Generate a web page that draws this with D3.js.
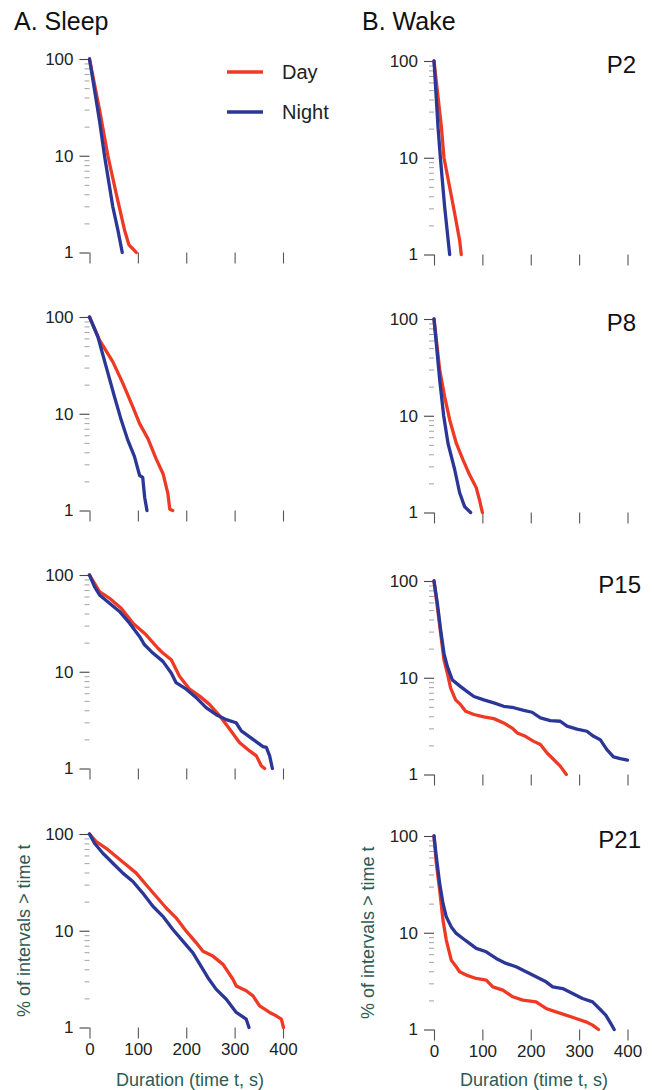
<!DOCTYPE html>
<html>
<head>
<meta charset="utf-8">
<script src="https://cdn.jsdelivr.net/npm/d3@7"></script>
<style>
  body { margin: 0; background: #fff; }
  svg { display: block; font-family: "Liberation Sans", Arial, Helvetica, sans-serif; }
</style>
</head>
<body>
<svg id="chart" width="654" height="1090"></svg>
<script>
// survival curves: [duration t (s), % of intervals > t]
const sleepP2Day = [[0,100],[20.7,30],[38,10],[55,4.1],[72.5,1.7],[81.5,1.2],[89,1.1],[96.7,1]];
const sleepP2Night = [[0,100],[20.7,23],[31,10],[48,3],[58.7,1.7],[67.7,1]];
const sleepP8Day = [[0,100],[20.7,57.8],[48.3,34.4],[69,20.6],[89.8,11.7],[103.6,7.9],[121,5.5],[138,3.4],[152,2.4],[162,1.5],[166,1.03],[172,1]];
const sleepP8Night = [[0,100],[17.3,62.5],[34.5,30.5],[51.8,14.9],[65.6,8.6],[79.4,5.3],[93,3.6],[103.6,2.3],[110,2.2],[114,1.37],[118.8,1]];
const sleepP15Day = [[0,100],[20.7,67.4],[41.4,57.5],[65.5,45.4],[89.7,31.8],[117,24.1],[141,17.6],[151.7,15.6],[169,13.3],[186,9],[207,6.6],[227.6,5.6],[248,4.6],[269,3.5],[290,2.54],[310,1.86],[331,1.52],[345,1.35],[355,1.07],[362,1]];
const sleepP15Night = [[0,100],[10.3,75.8],[20.7,62.2],[41.4,51],[62,42],[82.8,31.8],[103.4,23.2],[113.8,19],[131,15.6],[151.7,12.8],[169,9.7],[179,7.7],[200,6.6],[220.7,5.4],[241,4.25],[262,3.6],[282.8,3.2],[303,2.97],[313.8,2.45],[338,2],[358.6,1.68],[365.5,1.65],[372.4,1.35],[378,1]];
const sleepP21Day = [[0,100],[13.8,83.4],[34.5,71.2],[55,58.5],[75.9,48],[96.6,39.4],[117,29.9],[138,22.6],[158.6,17.2],[179,13.6],[200,9.9],[220.7,7.5],[234.5,6.15],[255,5.47],[276,4.49],[296.5,3.15],[303.4,2.69],[324,2.4],[338,2.12],[351.7,1.67],[372.4,1.43],[386,1.32],[396.6,1.22],[401,1]];
const sleepP21Night = [[0,100],[10.3,80.2],[27.6,63.2],[48.3,49.9],[69,39.4],[89.7,32.3],[110,24.5],[131,17.9],[151.7,14.1],[172.4,10.3],[193,7.8],[213.8,5.9],[234.5,3.98],[244.8,3.27],[262,2.48],[282.8,1.96],[303.4,1.43],[324,1.22],[329.7,1]];

const wakeP2Day = [[0,100],[15.3,20.8],[20.6,10],[39,3.35],[53,1.4],[56.4,1]];
const wakeP2Night = [[0,100],[8.3,20.8],[13.2,10],[22,3.1],[32.4,1]];
const wakeP8Day = [[0,100],[11.8,29.8],[22,15.8],[32.4,9.1],[46,5.2],[60,3.5],[73.6,2.45],[87.4,1.8],[94,1.35],[100,1]];
const wakeP8Night = [[0,100],[11.8,23.4],[20,10],[28.9,5.2],[42.6,2.8],[53,1.6],[63.3,1.15],[75.7,1]];
const wakeP15Day = [[0,100],[6.9,54.4],[13.7,28.9],[20.6,15.3],[27.5,11.2],[34.4,7.8],[44.7,5.9],[55,5.27],[65.3,4.5],[82.5,4.17],[103,3.94],[123.7,3.78],[144,3.41],[161.5,3.02],[172,2.69],[189,2.48],[206,2.2],[220,2.04],[233.7,1.67],[247.4,1.43],[261,1.22],[273.5,1]];
const wakeP15Night = [[0,100],[6.9,58.9],[13.7,31.3],[20.6,17.9],[27.5,13.1],[37.8,9.5],[55,8.1],[68.7,7.2],[82.5,6.4],[103,5.9],[123.7,5.5],[144,5.07],[165,4.9],[185.6,4.6],[202.7,4.4],[220,3.84],[240.5,3.6],[261,3.55],[275,3.16],[295.5,2.95],[316,2.8],[330,2.48],[343.6,2.29],[357,1.82],[371,1.52],[385,1.46],[400,1.41]];
const wakeP21Day = [[0,100],[4.8,52.1],[11.7,27.6],[18.6,13.5],[25.4,8.4],[35.7,5.21],[46,4.45],[52.9,3.95],[66.7,3.65],[87.3,3.37],[108,3.24],[121.6,2.76],[142.3,2.55],[162.9,2.18],[183.5,2.01],[211,1.93],[231.6,1.65],[252.2,1.52],[272.8,1.41],[293.5,1.3],[314,1.2],[327.8,1.11],[340,1]];
const wakeP21Night = [[0,100],[4.8,61.1],[11.7,32.4],[18.6,20.1],[25.4,14.6],[35.7,11.5],[46,9.84],[59.8,8.73],[73.5,7.76],[87.3,6.89],[108,6.36],[128.5,5.42],[149,4.82],[169.8,4.45],[190.4,3.95],[211,3.51],[231.6,3.11],[245.4,2.76],[266,2.65],[286.6,2.36],[307,2.09],[327.8,1.93],[341.6,1.65],[355,1.41],[365.6,1.15],[372.5,1]];

const ages = ["P2", "P8", "P15", "P21"];
const seriesNames = ["Day", "Night"];
const xTicks = [0, 100, 200, 300, 400];
const yDomain = [1, 100];

const sleepDay = [sleepP2Day, sleepP8Day, sleepP15Day, sleepP21Day];
const sleepNight = [sleepP2Night, sleepP8Night, sleepP15Night, sleepP21Night];
const wakeDay = [wakeP2Day, wakeP8Day, wakeP15Day, wakeP21Day];
const wakeNight = [wakeP2Night, wakeP8Night, wakeP15Night, wakeP21Night];

const COLORS = { Day: "#ee3a24", Night: "#2a3796" };
const LABEL_COLOR = "#2d5a55";
const PLOT_W = 193.5;
const PLOT_H = 193.5;

const columns = [
  { title: "A. Sleep", titleX: 14, x0: 89.5, tops: [59, 317, 575, 834], day: sleepDay, night: sleepNight,
    xLabelX: 190, yLabelX: 24, showAge: false },
  { title: "B. Wake", titleX: 362, x0: 434, tops: [61, 319, 581, 836], day: wakeDay, night: wakeNight,
    xLabelX: 534, yLabelX: 368, showAge: true }
];
const ageLabelX = [636, 636, 641, 641];

const svg = d3.select("#chart");

columns.forEach(col => {
  svg.append("text")
    .attr("x", col.titleX)
    .attr("y", 30)
    .attr("font-size", 25)
    .attr("fill", "#111")
    .text(col.title);

  col.tops.forEach((top, i) => {
    const x = d3.scaleLinear().domain([0, 400]).range([col.x0, col.x0 + PLOT_W]);
    const y = d3.scaleLog().domain(yDomain).range([top + PLOT_H, top]);
    const isMajor = v => Math.abs(Math.log10(v) - Math.round(Math.log10(v))) < 1e-9;
    const last = i === ages.length - 1;

    const g = svg.append("g");

    // y axis: major + minor log ticks
    const yAxis = g.append("g")
      .attr("transform", `translate(${col.x0},0)`)
      .call(d3.axisLeft(y).tickValues(y.ticks()).tickSize(10).tickPadding(6)
        .tickFormat(d => isMajor(d) ? d3.format("d")(d) : ""));
    yAxis.select(".domain").remove();
    yAxis.selectAll(".tick line")
      .attr("x2", d => isMajor(d) ? -10 : -5)
      .attr("stroke", d => isMajor(d) ? "#444" : "#999")
      .attr("stroke-width", d => isMajor(d) ? 1.1 : 0.9);
    yAxis.selectAll(".tick text")
      .attr("font-family", null)
      .attr("font-size", 17)
      .attr("fill", "#222");

    // x axis ticks hanging below the 1% line
    const xAxis = g.append("g")
      .attr("transform", `translate(0,${top + PLOT_H})`)
      .call(d3.axisBottom(x).tickValues(xTicks).tickSize(11).tickPadding(4)
        .tickFormat(last ? d3.format("d") : () => ""));
    xAxis.select(".domain").remove();
    xAxis.selectAll(".tick line").attr("stroke", "#555").attr("stroke-width", 1.1);
    xAxis.selectAll(".tick text")
      .attr("font-family", null)
      .attr("font-size", 17)
      .attr("fill", "#222");

    const line = d3.line().x(d => x(d[0])).y(d => y(d[1]));
    [["Day", col.day[i]], ["Night", col.night[i]]].forEach(([name, data]) => {
      g.append("path")
        .datum(data)
        .attr("fill", "none")
        .attr("stroke", COLORS[name])
        .attr("stroke-width", 3.3)
        .attr("stroke-linejoin", "round")
        .attr("stroke-linecap", "round")
        .attr("d", line);
    });

    if (col.showAge) {
      g.append("text")
        .attr("x", ageLabelX[i])
        .attr("y", top + 12)
        .attr("text-anchor", "end")
        .attr("font-size", 24)
        .attr("fill", "#111")
        .text(ages[i]);
    }

    if (last) {
      g.append("text")
        .attr("x", col.xLabelX)
        .attr("y", 1086)
        .attr("text-anchor", "middle")
        .attr("font-size", 18)
        .attr("fill", LABEL_COLOR)
        .text("Duration (time t, s)");
      g.append("text")
        .attr("transform", `translate(${col.yLabelX},${top + PLOT_H / 2}) rotate(-90)`)
        .attr("text-anchor", "middle")
        .attr("dy", "0.35em")
        .attr("font-size", 18)
        .attr("fill", LABEL_COLOR)
        .text("% of intervals > time t");
    }
  });
});

// legend
const legend = svg.append("g");
seriesNames.forEach((name, i) => {
  const ly = 72 + i * 40;
  legend.append("line")
    .attr("x1", 227).attr("x2", 263)
    .attr("y1", ly).attr("y2", ly)
    .attr("stroke", COLORS[name])
    .attr("stroke-width", 3.5);
  legend.append("text")
    .attr("x", 282)
    .attr("y", ly + 7)
    .attr("font-size", 20)
    .attr("fill", "#222")
    .text(name);
});
</script>
</body>
</html>
